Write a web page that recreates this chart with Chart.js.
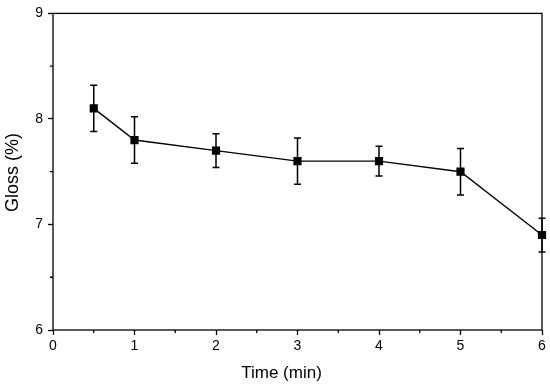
<!DOCTYPE html>
<html>
<head>
<meta charset="utf-8">
<script src="https://cdn.jsdelivr.net/npm/chart.js@4"></script>
<style>
html,body{margin:0;padding:0;background:#fff;}
#wrap{width:550px;height:386px;}
</style>
</head>
<body>
<div id="wrap"><canvas id="c" width="550" height="386"></canvas></div>
<script>
const timeMin = [0.5, 1, 2, 3, 4, 5, 6];
const gloss = [8.1, 7.8, 7.7, 7.6, 7.6, 7.5, 6.9];
const glossErr = [0.22, 0.22, 0.16, 0.22, 0.14, 0.22, 0.16];
const xTicks = [0, 1, 2, 3, 4, 5, 6];
const yTicks = [6, 7, 8, 9];
const xMinor = [0.5, 1.5, 2.5, 3.5, 4.5, 5.5];
const yMinor = [6.5, 7.5, 8.5];
const xTitle = 'Time (min)';
const yTitle = 'Gloss (%)';

const FONT = "'Liberation Sans', Arial, sans-serif";

const errorBars = {
  id: 'errorBars',
  afterDatasetsDraw(chart) {
    const ctx = chart.ctx, xs = chart.scales.x, ys = chart.scales.y;
    ctx.save();
    ctx.strokeStyle = '#000';
    ctx.lineWidth = 1.5;
    timeMin.forEach((t, i) => {
      const x = xs.getPixelForValue(t);
      const yt = ys.getPixelForValue(gloss[i] + glossErr[i]);
      const yb = ys.getPixelForValue(gloss[i] - glossErr[i]);
      ctx.beginPath();
      ctx.moveTo(x, yt); ctx.lineTo(x, yb);
      ctx.moveTo(x - 3.5, yt); ctx.lineTo(x + 3.5, yt);
      ctx.moveTo(x - 3.5, yb); ctx.lineTo(x + 3.5, yb);
      ctx.stroke();
    });
    ctx.restore();
  }
};

const frame = {
  id: 'frame',
  beforeDatasetsDraw(chart) {
    const ctx = chart.ctx, a = chart.chartArea, xs = chart.scales.x, ys = chart.scales.y;
    ctx.save();
    ctx.strokeStyle = '#000';
    ctx.lineWidth = 1.3;
    ctx.strokeRect(a.left, a.top, a.right - a.left, a.bottom - a.top);
    ctx.beginPath();
    xMinor.forEach(v => {
      const x = xs.getPixelForValue(v);
      ctx.moveTo(x, a.bottom); ctx.lineTo(x, a.bottom + 3);
    });
    yMinor.forEach(v => {
      const y = ys.getPixelForValue(v);
      ctx.moveTo(a.left, y); ctx.lineTo(a.left - 3, y);
    });
    ctx.stroke();
    // axis titles
    ctx.fillStyle = '#000';
    ctx.font = '17px ' + FONT;
    ctx.textAlign = 'center';
    ctx.textBaseline = 'alphabetic';
    ctx.fillText(xTitle, 281.5, 377.5);
    ctx.save();
    ctx.translate(17.5, 172.5);
    ctx.rotate(-Math.PI / 2);
    ctx.font = '18px ' + FONT;
    ctx.fillText(yTitle, 0, 0);
    ctx.restore();
    ctx.restore();
  }
};

new Chart(document.getElementById('c'), {
  type: 'line',
  data: {
    datasets: [{
      data: timeMin.map((t, i) => ({x: t, y: gloss[i]})),
      borderColor: '#000',
      backgroundColor: '#000',
      borderWidth: 1.4,
      pointStyle: 'rect',
      pointRadius: 4.8,
      pointHoverRadius: 4.8,
      tension: 0,
      clip: false
    }]
  },
  options: {
    responsive: false,
    animation: false,
    devicePixelRatio: 1,
    layout: { padding: { top: 11, right: 8, left: 0, bottom: 0 } },
    plugins: { legend: { display: false }, tooltip: { enabled: false } },
    scales: {
      x: {
        type: 'linear',
        min: 0, max: 6,
        afterBuildTicks: s => { s.ticks = xTicks.map(v => ({value: v})); },
        afterFit: s => { s.height = 56; },
        grid: { drawOnChartArea: false, color: '#000', tickLength: 5, tickWidth: 1.3 },
        border: { display: false },
        ticks: { color: '#000', font: { family: FONT, size: 14 }, padding: 3, maxRotation: 0 },
        title: { display: false }
      },
      y: {
        type: 'linear',
        min: 6, max: 9,
        afterBuildTicks: s => { s.ticks = yTicks.map(v => ({value: v})); },
        afterFit: s => { s.width = 53; },
        grid: { drawOnChartArea: false, color: '#000', tickLength: 5, tickWidth: 1.3 },
        border: { display: false },
        ticks: { color: '#000', font: { family: FONT, size: 14 }, padding: 5 },
        title: { display: false }
      }
    }
  },
  plugins: [frame, errorBars]
});
</script>
</body>
</html>
